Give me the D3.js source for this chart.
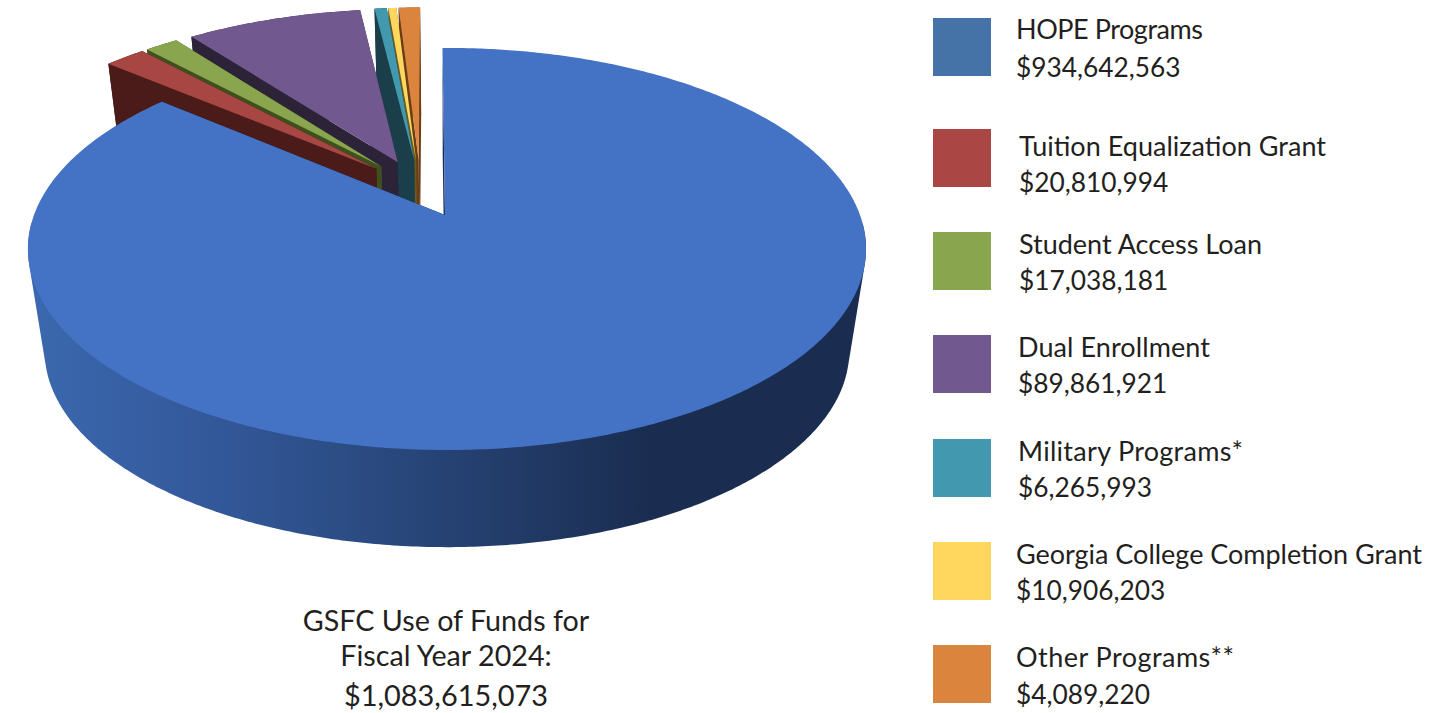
<!DOCTYPE html>
<html>
<head>
<meta charset="utf-8">
<script src="https://cdn.jsdelivr.net/npm/d3@7"></script>
<style>
html,body{margin:0;padding:0;background:#fff;overflow:hidden}
svg{display:block}
text{font-family:Lato,"Noto Sans",sans-serif;fill:#231f20}
</style>
</head>
<body>
<svg id="c" width="1456" height="713"></svg>
<script>
const categories = ["HOPE Programs","Tuition Equalization Grant","Student Access Loan","Dual Enrollment","Military Programs*","Georgia College Completion Grant","Other Programs**"];
// slice sizes as drawn in the picture (the last two wedges appear in this order)
const sliceValues = [934642563,20810994,17038181,89861921,6265993,4089220,10906203];
const amountLabels = ["$934,642,563","$20,810,994","$17,038,181","$89,861,921","$6,265,993","$10,906,203","$4,089,220"];
const topColors = ["#4472c4","#a84644","#89a54e","#71588f","#4198af","#ffd75e","#db843d"];
const legendColors = ["#4573a7","#aa4644","#89a54e","#71588f","#4198af","#ffd75e","#db843d"];
const wallColors = ["#1a2d50","#4a1b18","#3f4f1e","#2d2339","#1a3f4a","#6b5a1e","#6b3d16"];
const captionLines = ["GSFC Use of Funds for","Fiscal Year 2024:","$1,083,615,073"];
const captionSizes = [28.7,28.7,28.9];
const labelX = [1016,1019,1019,1018,1018,1016,1016];
const nameWidths = [187,307,243,192,225,406,218];
const nameY = [39,156,254,357,461,564,667];
const valueY = [77,192,290,393,497,600,704];
const swatchY = [18,129,232,335,439,542,645];
const captionY = [631,666,706];

const svg = d3.select("#c");
const TAU = 2*Math.PI;
const rot = -0.45*Math.PI/180;
const pie = d3.pie().sort(null).startAngle(rot).endAngle(rot+TAU).value(d=>d);
const arcs = pie(sliceValues);

// perspective disc projection
const k=0.169, R=413, Ry=195.3, cx=448, cy=215, explode=0.155, discCx=447;
const botX=0.96, botY=0.975, botCy=318;
const proj = (u,v)=>{const w=1/(1-k*v);return [cx+R*u*w, cy+Ry*v*w];};
const lower = p=>[discCx+(p[0]-discCx)*botX, botCy+(p[1]-cy)*botY];
const dir = a=>[Math.sin(a),-Math.cos(a)];
const mid = d=>(d.startAngle+d.endAngle)/2;
const b = dir(mid(arcs[0]));
const center = [(discCx-cx)/R-explode*b[0], -explode*b[1]];
const apexOf = d=>{const m=dir(mid(d));return [center[0]+explode*m[0],center[1]+explode*m[1]];};
const outer = (d,a)=>{const A=apexOf(d),m=dir(a);return proj(A[0]+m[0],A[1]+m[1]);};
const line = d3.line();

const grad = svg.append("defs").append("linearGradient").attr("id","wall")
  .attr("gradientUnits","userSpaceOnUse").attr("x1",30).attr("x2",650).attr("y1",0).attr("y2",0);
[[0,"#3b68ae"],[0.3,"#33589a"],[0.55,"#2a4a80"],[0.75,"#233d6b"],[1,"#1a2d50"]]
 .forEach(s=>grad.append("stop").attr("offset",s[0]).attr("stop-color",s[1]));

const frontFrom=92*Math.PI/180, frontTo=268*Math.PI/180, blueLead=0.3*Math.PI/180;
[6,5,4,3,2,1,0].forEach(i=>{
  const d=arcs[i], g=svg.append("g");
  const A=apexOf(d), base=proj(A[0],A[1]);
  const ap = i===0 ? [base[0]-2,base[1]] : base;
  const a0 = i===0 ? d.startAngle-blueLead : d.startAngle;
  const n=Math.max(6,Math.ceil((d.endAngle-a0)/0.01));
  const angles=d3.range(n+1).map(j=>a0+(d.endAngle-a0)*j/n);
  const rim=angles.map(a=>outer(d,a));
  if(i===0){
    const front=angles.filter(a=>a>frontFrom&&a<frontTo).map(a=>outer(d,a));
    const hull=d3.polygonHull(front.concat(front.map(lower)));
    g.append("path").attr("d",line(hull)+"Z").attr("fill","url(#wall)");
  } else {
    g.append("path").attr("d",line(rim.concat(rim.map(lower).reverse()))+"Z").attr("fill",wallColors[i]);
  }
  [rim[0],rim[rim.length-1]].forEach(p=>{
    g.append("path").attr("d",line([ap,p,lower(p),lower(ap)])+"Z").attr("fill",wallColors[i]);
  });
  g.append("path").attr("d",line([ap,...rim])+"Z").attr("fill",topColors[i]);
});

const legend = svg.append("g");
categories.forEach((c,i)=>{
  legend.append("rect").attr("x",933).attr("y",swatchY[i]).attr("width",58).attr("height",58).attr("fill",legendColors[i]);
  legend.append("text").attr("x",labelX[i]).attr("y",nameY[i]).attr("font-size",27)
    .attr("textLength",nameWidths[i]).attr("lengthAdjust","spacing").text(c);
  legend.append("text").attr("x",labelX[i]).attr("y",valueY[i]).attr("font-size",26.3).text(amountLabels[i]);
});
captionLines.forEach((t,i)=>{
  svg.append("text").attr("x",446).attr("y",captionY[i]).attr("text-anchor","middle").attr("font-size",captionSizes[i]).text(t);
});
</script>
</body>
</html>
